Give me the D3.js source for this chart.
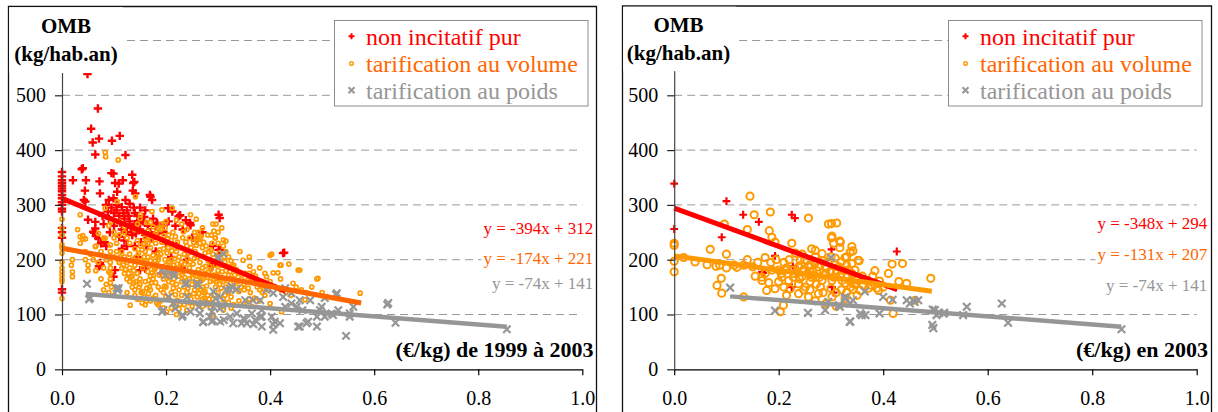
<!DOCTYPE html>
<html><head><meta charset="utf-8">
<script src="https://cdn.jsdelivr.net/npm/d3@7"></script>
<style>
body{margin:0;background:#fff}
svg{display:block}
text{font-family:"Liberation Serif","Times New Roman","DejaVu Serif",serif}
</style>
</head><body>
<svg id="c" width="1218" height="412"></svg>
<script>
// ---------------- DATA ----------------
const xTicks = [0, 0.2, 0.4, 0.6, 0.8, 1.0];
const yTicks = [0, 100, 200, 300, 400, 500, 600];
const seriesNames = ["non incitatif pur", "tarification au volume", "tarification au poids"];
const yTitle = ["OMB", "(kg/hab.an)"];
const leftXTitle = "(€/kg) de 1999 à 2003";
const rightXTitle = "(€/kg) en 2003";
const leftEquations = ["y = -394x + 312", "y = -174x + 221", "y = -74x + 141"];
const rightEquations = ["y = -348x + 294", "y = -131x + 207", "y = -74x + 141"];
// trend: [slope, intercept, xStart, xEnd]
const leftTrends = [[-394, 312, 0, 0.43], [-174, 221, 0, 0.575], [-74, 141, 0.046, 0.855]];
const rightTrends = [[-348, 294, 0, 0.427], [-131, 207, 0, 0.493], [-74, 141, 0.107, 0.856]];

const leftRed = [[0,360],[0,352],[0,345],[0,340],[0,335],[0,330],[0,325],[0,318],[0,312],[0,305],[0,300],[0,293],[0,288],[0,258],[0,250],[0,240],[0,146],[0,140],
[0.049,539],[0.069,476],[0.056,439],[0.059,414],[0.071,421],[0.064,392],[0.096,417],[0.111,426],[0.122,391],[0.040,367],[0.021,345],[0.046,345],[0.072,343],[0.099,357],[0.135,355],[0.139,342],[0.109,339],[0.044,326],[0.073,321],[0.106,324],[0.141,321],[0.17,315],[0.173,309],[0.045,306],[0.038,365],[0.042,309],[0.102,340],[0.095,358],[0.117,345],[0.137,340],[0.136,326],[0.169,318],
[0.09,309],[0.099,312],[0.122,309],[0.085,300],[0.095,295],[0.105,300],[0.115,296],[0.125,290],[0.13,302],[0.14,285],[0.15,295],[0.16,290],[0.1,285],[0.11,280],[0.12,275],[0.13,270],[0.14,265],[0.145,280],[0.155,270],[0.165,262],[0.175,275],[0.18,262],[0.09,275],[0.08,265],[0.1,262],[0.115,255],[0.125,250],[0.135,245],[0.15,255],[0.16,245],[0.17,250],[0.05,273],[0.064,269],[0.064,257],[0.06,251],[0.07,239],[0.062,249],[0.065,243],[0.075,230],[0.085,225],[0.074,190],[0.073,194],[0.071,188],[0.099,169],[0.16,184],[0.183,266],[0.195,251],[0.204,294],[0.212,288],[0.227,281],[0.224,279],[0.246,267],[0.247,263],[0.301,282],[0.303,276],[0.288,190],[0.29,194],[0.301,218],[0.304,218],[0.427,213],[0.425,212],[0.289,188],[0.2,230],[0.22,225],[0.25,240],[0.27,250],[0.26,235],[0.29,225],[0.21,205],[0.24,200],[0.18,215],[0.14,225],[0.12,235],[0.145,205],[0.3,170],[0.23,185],[0.115,220],[0.19,175],[0.102,181],[0.15,181],[0.15,272],[0.182,267],
[0.105,290],[0.118,285],[0.128,280],[0.138,295],[0.148,268],[0.158,278],[0.112,268],[0.132,258],[0.142,248],[0.088,288],[0.078,280],[0.092,250],[0.082,232],[0.11,242],[0.125,225],[0.152,232],[0.162,225],[0.172,238],[0.185,248],[0.195,262],[0.205,270],[0.218,262],[0.232,255],[0.238,272]];

const leftOrange = [[0,274],[0,257],[0,245],[0,227],[0,222],[0,212],[0,196],[0,185],[0,178],[0,172],[0,165],[0,160],[0,129],
[0.02,200],[0.018,190],[0.02,178],[0.02,169],[0.04,244],[0.04,238],[0.035,242],[0.045,238],[0.045,215],[0.045,200],[0.05,190],[0.05,180],[0.055,210],[0.035,230],[0.03,255],[0.035,282],
[0.064,224],[0.083,239],[0.07,248],[0.08,240],[0.065,225],[0.075,215],[0.085,200],[0.06,200],[0.07,195],[0.08,185],[0.09,178],[0.065,180],[0.075,165],[0.085,155],[0.095,150],[0.08,145],[0.09,140],[0.1,135],[0.083,396],[0.084,388],[0.108,382],[0.083,294],[0.106,306],[0.141,315],
[0.093,227],[0.093,215],[0.093,205],[0.093,195],[0.093,185],[0.093,175],[0.093,165],[0.093,158],[0.1,250],[0.1,240],[0.09,262],[0.105,230],[0.11,245],[0.1,205],[0.095,270],
[0.11,270],[0.12,260],[0.12,250],[0.125,240],[0.13,230],[0.115,215],[0.12,205],[0.125,195],[0.13,185],[0.12,175],[0.125,165],[0.13,160],[0.135,150],[0.14,145],[0.11,195],[0.115,185],[0.13,210],[0.14,220],[0.145,235],[0.14,255],[0.145,265],[0.15,275],[0.135,200],[0.14,190],[0.145,175],[0.15,165],[0.15,155],[0.125,140],[0.14,135],[0.131,117],[0.154,121],
[0.151,282],[0.173,288],[0.192,291],[0.212,294],[0.247,282],[0.258,274],[0.233,251],[0.265,239],
[0.155,250],[0.16,240],[0.165,230],[0.17,222],[0.16,215],[0.165,205],[0.17,198],[0.175,190],[0.18,185],[0.16,195],[0.155,185],[0.165,178],[0.17,170],[0.175,165],[0.18,158],[0.185,150],[0.19,145],[0.195,140],[0.2,132],[0.19,125],[0.18,135],[0.17,145],[0.16,160],[0.185,200],[0.19,210],[0.195,220],[0.18,230],[0.185,240],[0.19,255],[0.175,260],[0.2,270],[0.195,180],[0.2,190],[0.2,170],[0.205,160],[0.195,165],[0.2,150],[0.175,208],[0.165,252],[0.17,268],[0.182,121],[0.201,105],
[0.205,245],[0.21,235],[0.215,225],[0.22,215],[0.225,205],[0.21,200],[0.215,190],[0.22,180],[0.225,170],[0.23,160],[0.235,150],[0.24,140],[0.21,175],[0.215,165],[0.22,155],[0.225,145],[0.23,135],[0.205,130],[0.215,120],[0.23,195],[0.235,210],[0.24,225],[0.245,240],[0.24,255],[0.23,265],[0.22,272],[0.245,185],[0.25,175],[0.245,165],[0.25,155],[0.21,140],[0.235,118],[0.225,110],
[0.255,250],[0.26,240],[0.265,230],[0.27,222],[0.275,212],[0.26,205],[0.265,195],[0.27,185],[0.275,175],[0.28,168],[0.285,160],[0.26,170],[0.265,160],[0.27,150],[0.275,142],[0.28,135],[0.29,128],[0.255,145],[0.26,132],[0.285,200],[0.29,210],[0.295,190],[0.28,245],[0.27,258],[0.29,265],[0.296,265],[0.307,258],[0.3,250],[0.295,240],[0.3,230],[0.3,180],[0.3,165],[0.295,150],[0.3,140],[0.28,120],[0.27,115],[0.29,100],[0.294,240],[0.31,236],[0.315,234],
[0.31,225],[0.315,215],[0.32,205],[0.325,198],[0.31,190],[0.315,180],[0.32,172],[0.325,165],[0.33,160],[0.335,150],[0.34,142],[0.31,160],[0.315,150],[0.32,140],[0.325,132],[0.33,190],[0.335,182],[0.342,215],[0.348,199],[0.34,175],[0.345,165],[0.35,155],[0.31,128],[0.32,122],[0.33,118],[0.35,145],
[0.361,188],[0.36,175],[0.365,165],[0.37,158],[0.375,150],[0.38,145],[0.385,140],[0.39,135],[0.393,169],[0.4,208],[0.403,210],[0.419,190],[0.421,190],[0.415,176],[0.406,176],[0.436,192],[0.444,157],[0.454,181],[0.457,181],[0.4,160],[0.41,150],[0.42,145],[0.43,140],[0.44,135],[0.37,130],[0.38,125],[0.4,120],[0.36,205],[0.38,185],[0.39,175],[0.42,165],[0.45,150],[0.46,145],[0.47,140],[0.467,127],[0.422,105],
[0.49,165],[0.492,166],[0.573,139],[0.5,140],[0.48,150],
[0.135,170],[0.138,180],[0.142,160],[0.148,150],[0.152,140],[0.158,132],[0.162,125],[0.166,138],[0.168,150],[0.172,158],[0.176,172],[0.178,182],[0.182,192],[0.186,206],[0.188,218],[0.192,232],[0.196,244],[0.198,200],[0.202,212],[0.204,222],[0.206,186],[0.208,170],[0.212,158],[0.214,148],[0.218,136],[0.222,126],[0.226,118],[0.228,188],[0.232,178],[0.236,168],[0.238,158],[0.242,148],[0.244,135],[0.248,128],[0.252,192],[0.254,202],[0.256,215],[0.258,226],[0.262,182],[0.264,172],[0.268,162],[0.272,140],[0.274,130],[0.278,152],[0.282,178],[0.284,188],[0.286,218],[0.288,230],[0.292,172],[0.296,160],[0.298,200],[0.302,212],[0.304,190],[0.306,148],[0.308,178],[0.312,205],[0.318,162],[0.322,152],[0.328,145],[0.332,172],[0.338,160],[0.344,150],[0.352,175],[0.356,162],[0.358,148],[0.362,140],[0.368,178],[0.372,170],[0.378,160],[0.382,152],[0.388,148],[0.392,155],[0.396,145],
[0.105,215],[0.108,200],[0.112,205],[0.118,190],[0.122,182],[0.128,175],[0.132,168],[0.138,158],[0.143,205],[0.147,212],[0.152,198],[0.154,218],[0.157,228],[0.162,235],[0.167,242],[0.172,235],[0.177,245],[0.181,250],[0.186,258],[0.191,265],[0.198,258],[0.203,238],[0.208,228],[0.213,250],[0.218,242],[0.222,232],[0.228,222],[0.232,240],[0.238,232],[0.243,212],[0.248,222],[0.253,232],[0.258,238],[0.262,250],[0.267,242],[0.272,232],[0.277,225],[0.282,215],[0.287,245],[0.292,252],
[0.16,118],[0.17,125],[0.175,130],[0.185,118],[0.195,112],[0.21,112],[0.22,100],[0.24,108],[0.25,115],[0.26,120],[0.27,128],[0.285,112],[0.3,118],[0.31,108],[0.325,112],[0.34,125],[0.35,118],[0.36,128],[0.365,115],
[0.145,128],[0.155,142],[0.163,148],[0.167,162],[0.173,176],[0.179,198],[0.183,210],[0.187,172],[0.193,186],[0.197,152],[0.203,176],[0.207,196],[0.211,216],[0.217,202],[0.221,192],[0.226,182],[0.231,172],[0.236,192],[0.241,202],[0.246,196],[0.251,166],[0.257,158],[0.261,150],[0.266,146],[0.271,165],[0.276,188],[0.281,198],[0.286,182],[0.291,162],[0.297,172],[0.303,155],[0.309,165],[0.313,196],[0.319,188],[0.323,178],[0.327,188],[0.243,122],[0.253,138],[0.263,138],[0.283,128],[0.293,135],[0.313,135],[0.168,188],[0.158,205],[0.151,225],[0.163,268]];

const leftGrey = [[0.048,156],[0.052,128],[0.054,130],[0.105,148],[0.107,144],[0.109,148],[0.195,108],[0.214,121],[0.232,99],[0.24,157],[0.259,157],[0.237,156],[0.262,154],[0.192,181],[0.199,172],[0.215,171],[0.201,181],[0.214,176],[0.205,132],[0.24,132],[0.192,105],[0.218,111],[0.231,96],[0.247,105],[0.263,114],[0.272,87],[0.288,105],[0.304,87],[0.295,129],[0.308,117],[0.3,205],[0.31,211],[0.301,202],
[0.271,86],[0.29,90],[0.304,132],[0.323,145],[0.329,84],[0.355,84],[0.367,126],[0.381,96],[0.393,145],[0.409,87],[0.406,72],[0.425,132],[0.454,78],[0.473,87],[0.49,78],[0.451,114],[0.457,78],[0.47,84],[0.419,84],[0.288,87],[0.345,84],[0.371,90],[0.384,96],
[0.326,151],[0.336,146],[0.352,126],[0.381,126],[0.406,139],[0.429,148],[0.441,139],[0.457,126],[0.477,126],[0.499,114],[0.505,96],[0.265,102],[0.284,96],[0.304,111],[0.311,90],[0.323,96],[0.336,102],[0.349,93],[0.365,102],[0.384,108],[0.403,96],[0.406,82],[0.384,78],[0.368,82],[0.352,90],[0.291,114],[0.271,120],[0.316,145],[0.291,142],[0.429,114],[0.441,120],[0.462,108],[0.49,96],[0.518,102],[0.531,108],
[0.627,121],[0.625,118],[0.641,85],[0.546,61],[0.527,136],[0.528,139],[0.505,130],[0.496,108],[0.521,99],[0.553,102],[0.56,114],[0.553,96],[0.855,73]];

const rightRed = [[0,339],[0,256],[0.1,307],[0.091,241],[0.132,282],[0.162,269],[0.225,282],[0.231,276],[0.193,207],[0.227,188],[0.17,176],[0.301,219],[0.426,215],[0.225,150],[0.302,150],[0.305,140],[0.168,178]];

const rightOrange = [[0,230],[0,226],[0,197],[0,178],[0.018,204],[0.04,196],[0.063,191],[0.069,219],[0.087,190],[0.1,185],[0.1,210],[0.096,265],[0.145,316],[0.153,282],[0.184,287],[0.14,255],[0.182,253],[0.187,241],[0.193,232],[0.174,204],[0.133,190],[0.09,166],[0.082,153],[0.091,139],[0.133,132],[0.15,187],[0.155,170],[0.168,168],[0.181,158],[0.177,144],[0.193,147],[0.209,117],[0.203,105],[0.222,147],[0.225,230],[0.232,212],[0.241,199],[0.257,276],[0.263,220],[0.27,217],[0.283,211],[0.295,265],[0.301,266],[0.302,243],[0.305,230],[0.318,232],[0.317,234],[0.301,240],[0.337,214],[0.327,204],[0.308,203],[0.289,187],[0.276,187],[0.257,187],[0.238,187],[0.225,181],[0.213,181],[0.2,181],[0.187,181],[0.174,175],[0.168,162],[0.206,168],[0.219,162],[0.238,156],[0.251,150],[0.263,168],[0.283,162],[0.302,162],[0.321,162],[0.34,175],[0.34,193],[0.315,187],[0.238,138],[0.257,132],[0.276,138],[0.302,132],[0.327,129],[0.311,267],[0.33,205],[0.352,199],[0.33,190],[0.384,180],[0.417,192],[0.437,193],[0.491,166],[0.34,224],[0.317,222],[0.342,216],[0.354,198],[0.333,181],[0.346,181],[0.393,161],[0.445,157],[0.461,126],[0.414,126],[0.419,102],[0.388,148],[0.372,148],[0.356,144],[0.342,146],[0.327,157],[0.337,160],[0.35,163],[0.362,153],[0.378,153],[0.391,144],
[0.25,200],[0.27,195],[0.29,175],[0.31,175],[0.26,160],[0.28,150],[0.3,148],[0.32,145],[0.245,170],[0.265,180],[0.285,198],[0.36,170],[0.37,162],[0.38,170],[0.4,150],[0.35,135],[0.29,120],[0.31,115],[0.27,125],[0.21,195],[0.195,200],[0.22,200],[0.2,160],[0.21,150],[0.23,175],[0.24,165],[0.26,145],[0.32,196],[0.3,205],[0.41,175],[0.43,160],[0.115,190],[0.12,186],[0.08,188],
[0.205,175],[0.215,185],[0.228,168],[0.235,178],[0.243,190],[0.248,182],[0.255,175],[0.262,190],[0.268,172],[0.273,180],[0.278,168],[0.288,172],[0.292,185],[0.298,178],[0.305,168],[0.312,180],[0.318,172],[0.325,180],[0.332,170],[0.338,150],[0.345,155],[0.272,155],[0.248,145],[0.215,135],[0.285,140],[0.31,140],[0.33,140],[0.295,195],[0.27,205],[0.245,210],[0.185,195],[0.16,195],[0.14,200]];

const rightGrey = [[0.107,149],[0.193,107],[0.256,103],[0.289,108],[0.295,123],[0.3,204],[0.327,129],[0.337,87],[0.337,120],[0.315,117],[0.327,132],[0.342,126],[0.359,99],[0.366,99],[0.336,87],[0.365,142],[0.393,102],[0.4,132],[0.418,127],[0.451,120],[0.46,123],[0.445,126],[0.458,126],[0.467,126],[0.499,108],[0.495,109],[0.496,75],[0.494,81],[0.502,99],[0.507,103],[0.515,102],[0.517,103],[0.56,114],[0.553,99],[0.627,120],[0.639,85],[0.856,73],[0.317,114],[0.356,102]];

// ---------------- STYLE / LAYOUT ----------------
const RED = "#ff0000", ORANGE_PT = "#ff9900", ORANGE_TXT = "#ff6600", GREY = "#969696";
const svg = d3.select("#c");

const panels = [
  {frame:{l:8.5,t:6.5,r:596.5}, xr:[62,582.3], yr:[369.3,40.5],
   titleBox:{x:9.2,y:7.2,w:114,h:65.8}, titleX:66, ombY:33.3, unitY:61,
   legend:{x:334.5,y:20.5,w:253.5,h:85.5},
   eqX:593.3, eqY:[234.3,264.3,289.3], xTitleX:593.5, xTitleY:356.7,
   orangeR:2, orangeSW:1.7, plus:4.2, plusSW:2.4, cross:3.7, crossSW:2.2, orangeLine:ORANGE_TXT,
   red:leftRed, orange:leftOrange, grey:leftGrey, trends:leftTrends, eqs:leftEquations, xTitle:leftXTitle},
  {frame:{l:622.5,t:6,r:1211.5}, xr:[674.2,1196.7], yr:[369.3,40.5],
   titleBox:{x:623.2,y:6.7,w:113,h:64.5}, titleX:678.5, ombY:31.7, unitY:59.8,
   legend:{x:948.5,y:20.5,w:253.5,h:85.5},
   eqX:1207.3, eqY:[229.3,260,290.7], xTitleX:1208, xTitleY:356.7,
   orangeR:3.6, orangeSW:2, plus:3.9, plusSW:2.2, cross:3.8, crossSW:2.2, orangeLine:ORANGE_PT,
   red:rightRed, orange:rightOrange, grey:rightGrey, trends:rightTrends, eqs:rightEquations, xTitle:rightXTitle}
];

function plusPath(s){ return `M${-s},0H${s}M0,${-s}V${s}`; }
function crossPath(s){ return `M${-s},${-s}L${s},${s}M${-s},${s}L${s},${-s}`; }

panels.forEach(p => {
  const g = svg.append("g");
  const x = d3.scaleLinear().domain([0, 1]).range(p.xr);
  const y = d3.scaleLinear().domain([0, 600]).range(p.yr);

  // frame
  g.append("path")
    .attr("d", `M${p.frame.l},412V${p.frame.t}H${p.frame.r}V412`)
    .attr("fill", "none").attr("stroke", "#111").attr("stroke-width", 1.3);

  // gridlines
  g.append("g").selectAll("line").data(yTicks.filter(d => d > 0)).join("line")
    .attr("x1", x(0)).attr("x2", x(1))
    .attr("y1", d => y(d)).attr("y2", d => y(d))
    .attr("stroke", "#999").attr("stroke-width", 1).attr("stroke-dasharray", "8,5");

  // points: red, orange, grey
  g.append("g").selectAll("path").data(p.red).join("path")
    .attr("transform", d => `translate(${x(d[0])},${y(d[1])})`)
    .attr("d", plusPath(p.plus)).attr("stroke", RED).attr("stroke-width", p.plusSW).attr("fill", "none");
  g.append("g").selectAll("circle").data(p.orange).join("circle")
    .attr("cx", d => x(d[0])).attr("cy", d => y(d[1])).attr("r", p.orangeR)
    .attr("fill", "none").attr("stroke", ORANGE_PT).attr("stroke-width", p.orangeSW);
  g.append("g").selectAll("path").data(p.grey).join("path")
    .attr("transform", d => `translate(${x(d[0])},${y(d[1])})`)
    .attr("d", crossPath(p.cross)).attr("stroke", GREY).attr("stroke-width", p.crossSW).attr("fill", "none");

  // trend lines
  const lineColors = [RED, p.orangeLine, GREY];
  const lineW = [5, 5, 4.5];
  const line = d3.line().x(d => x(d[0])).y(d => y(d[1]));
  p.trends.forEach((t, i) => {
    const pts = [[t[2], t[0] * t[2] + t[1]], [t[3], t[0] * t[3] + t[1]]];
    g.append("path").attr("d", line(pts)).attr("stroke", lineColors[i])
      .attr("stroke-width", lineW[i]).attr("fill", "none");
  });

  // axes
  const xa = g.append("g").attr("transform", `translate(0,${y(0)})`)
    .call(d3.axisBottom(x).tickValues(xTicks).tickFormat(d3.format(".1f")).tickSize(6).tickSizeOuter(0).tickPadding(15.5));
  xa.attr("font-family", null);
  xa.select(".domain").attr("stroke", "#000").attr("stroke-width", 1.2);
  xa.selectAll(".tick line").attr("stroke", "#000").attr("stroke-width", 1.2);
  xa.selectAll("text").attr("font-size", 20).attr("fill", "#000");

  const ya = g.append("g").attr("transform", `translate(${x(0)},0)`)
    .call(d3.axisLeft(y).tickValues(yTicks).tickSize(7).tickSizeOuter(0).tickPadding(9));
  ya.attr("font-family", null);
  ya.select(".domain").attr("stroke", "#444").attr("stroke-width", 1.2);
  ya.selectAll(".tick line").attr("stroke", "#222").attr("stroke-width", 1.2);
  ya.selectAll("text").attr("font-size", 20).attr("fill", "#000");

  // y title box
  g.append("rect").attr("x", p.titleBox.x).attr("y", p.titleBox.y)
    .attr("width", p.titleBox.w).attr("height", p.titleBox.h).attr("fill", "#fff");
  g.append("text").attr("x", p.titleX).attr("y", p.ombY).attr("text-anchor", "middle")
    .attr("font-weight", "bold").attr("font-size", 21).text(yTitle[0]);
  g.append("text").attr("x", p.titleX).attr("y", p.unitY).attr("text-anchor", "middle")
    .attr("font-weight", "bold").attr("font-size", 21).text(yTitle[1]);

  // legend
  const L = p.legend;
  g.append("rect").attr("x", L.x).attr("y", L.y).attr("width", L.w).attr("height", L.h)
    .attr("fill", "#fff").attr("stroke", "#8c8c8c").attr("stroke-width", 1);
  const legColors = [RED, ORANGE_TXT, GREY];
  const rowY = [36.2, 63.5, 90.2];
  seriesNames.forEach((name, i) => {
    const mx = L.x + 17, my = rowY[i];
    if (i === 0) g.append("path").attr("transform", `translate(${mx},${my})`).attr("d", plusPath(3)).attr("stroke", RED).attr("stroke-width", 2);
    if (i === 1) g.append("circle").attr("cx", mx).attr("cy", my).attr("r", 1.8).attr("fill", "none").attr("stroke", ORANGE_PT).attr("stroke-width", 1.4);
    if (i === 2) g.append("path").attr("transform", `translate(${mx},${my})`).attr("d", crossPath(3)).attr("stroke", GREY).attr("stroke-width", 2);
    g.append("text").attr("x", L.x + 31.5).attr("y", my + 8.3).attr("font-size", 24)
      .attr("fill", legColors[i]).text(name);
  });

  // equations with white background
  const eqColors = [RED, ORANGE_TXT, GREY];
  p.eqs.forEach((e, i) => {
    const t = g.append("text").attr("x", p.eqX).attr("y", p.eqY[i]).attr("text-anchor", "end")
      .attr("font-size", 17).attr("fill", eqColors[i]).text(e);
    const b = t.node().getBBox();
    g.insert("rect", () => t.node()).attr("x", b.x - 2).attr("y", b.y + 2).attr("width", b.width + 2).attr("height", b.height - 4).attr("fill", "#fff");
  });

  // x title
  g.append("text").attr("x", p.xTitleX).attr("y", p.xTitleY).attr("text-anchor", "end")
    .attr("font-weight", "bold").attr("font-size", 22).attr("fill", "#000").text(p.xTitle);
});
</script>
</body></html>
